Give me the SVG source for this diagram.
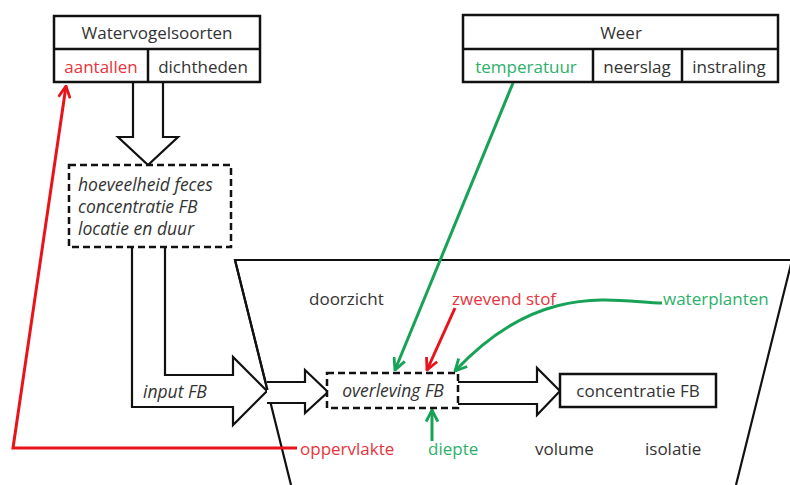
<svg xmlns="http://www.w3.org/2000/svg" width="790" height="485" viewBox="0 0 790 485">
<defs>
<style>
.t{font-family:"Open Sans","Liberation Sans",sans-serif;font-size:17px;fill:#333}
.i{font-style:italic;font-size:17.5px}
.m{text-anchor:middle}
.red{fill:#e8343c}
.grn{fill:#2db06a}
.box{fill:#fff;stroke:#111;stroke-width:2.5}
.dash{fill:#fff;stroke:#111;stroke-width:2.5;stroke-dasharray:7 4}
.ha{fill:#fff;stroke:#111;stroke-width:2.2;stroke-linejoin:miter}
.rl{fill:none;stroke:#e8141a;stroke-width:3}
.gl{fill:none;stroke:#17a257;stroke-width:3}
</style>
<marker id="ar" viewBox="0 0 12 12" refX="11" refY="6" markerWidth="14" markerHeight="14" markerUnits="userSpaceOnUse" orient="auto">
<path d="M1,1 L11,6 L1,11" fill="none" stroke="#e8141a" stroke-width="2.4"/>
</marker>
<marker id="ag" viewBox="0 0 12 12" refX="11" refY="6" markerWidth="14" markerHeight="14" markerUnits="userSpaceOnUse" orient="auto">
<path d="M1,1 L11,6 L1,11" fill="none" stroke="#17a257" stroke-width="2.4"/>
</marker>
</defs>
<rect width="790" height="485" fill="#fff"/>

<g id="vessel">
<path d="M291,485 L235,260 L792,260 L736,485" fill="none" stroke="#111" stroke-width="2.2"/>
</g>

<g id="connectors">
<path class="ha" d="M133,82 L133,137 L118,137 L148,165 L178,137 L163,137 L163,82"/>
<path class="ha" d="M132,247 L132,407 L233,407 L233,425 L267,391 L233,357 L233,375 L165,375 L165,247"/>
<path class="ha" d="M267,382 L305,382 L305,370 L328,392 L305,413 L305,403 L267,403"/>
<path class="ha" d="M458,382 L537,382 L537,368 L560,391 L537,415 L537,404 L458,404"/>
<path d="M235,260 L267.5,390" fill="none" stroke="#111" stroke-width="2.2"/>
<path class="rl" d="M297,448 L13,448 L66,86" marker-end="url(#ar)"/>
<path class="rl" d="M455,308 L427,370" marker-end="url(#ar)"/>
<path class="gl" d="M513,83 L395,370" marker-end="url(#ag)"/>
<path class="gl" d="M662,303 C615,302 540,280 455,371" marker-end="url(#ag)"/>
<path class="gl" d="M432,441 L432,410" marker-end="url(#ag)"/>
</g>

<g id="watervogelsoorten">
<rect class="box" x="54" y="16" width="206" height="66"/>
<line x1="54" y1="49" x2="260" y2="49" stroke="#111" stroke-width="2.5"/>
<line x1="148" y1="49" x2="148" y2="82" stroke="#111" stroke-width="2.5"/>
<text class="t m" x="157" y="39">Watervogelsoorten</text>
<text class="t m red" x="101" y="73">aantallen</text>
<text class="t m" x="203" y="73">dichtheden</text>
</g>

<g id="weer">
<rect class="box" x="463" y="15" width="315" height="67"/>
<line x1="463" y1="49" x2="778" y2="49" stroke="#111" stroke-width="2.5"/>
<line x1="593" y1="49" x2="593" y2="82" stroke="#111" stroke-width="2.5"/>
<line x1="682" y1="49" x2="682" y2="82" stroke="#111" stroke-width="2.5"/>
<text class="t m" x="621" y="39">Weer</text>
<text class="t m grn" x="526" y="73">temperatuur</text>
<text class="t m" x="637" y="73">neerslag</text>
<text class="t m" x="729" y="73">instraling</text>
</g>

<g id="feces">
<rect class="dash" x="69" y="165" width="162" height="82"/>
<text class="t i" x="78" y="191">hoeveelheid feces</text>
<text class="t i" x="78" y="213">concentratie FB</text>
<text class="t i" x="78" y="235">locatie en duur</text>
</g>

<g id="input">
<text class="t i" x="143" y="398">input FB</text>
</g>

<g id="overleving">
<rect class="dash" x="327" y="373" width="131" height="35"/>
<text class="t i m" x="393" y="397">overleving FB</text>
</g>

<g id="concentratie">
<rect class="box" x="560" y="374" width="156" height="33"/>
<text class="t m" x="638" y="397">concentratie FB</text>
</g>

<g id="labels">
<text class="t" x="309" y="305">doorzicht</text>
<text class="t red" x="452" y="305">zwevend stof</text>
<text class="t grn" x="663" y="305">waterplanten</text>
<text class="t red" x="300" y="455">oppervlakte</text>
<text class="t grn" x="428" y="455">diepte</text>
<text class="t" x="535" y="455">volume</text>
<text class="t" x="645" y="455">isolatie</text>
</g>
</svg>
